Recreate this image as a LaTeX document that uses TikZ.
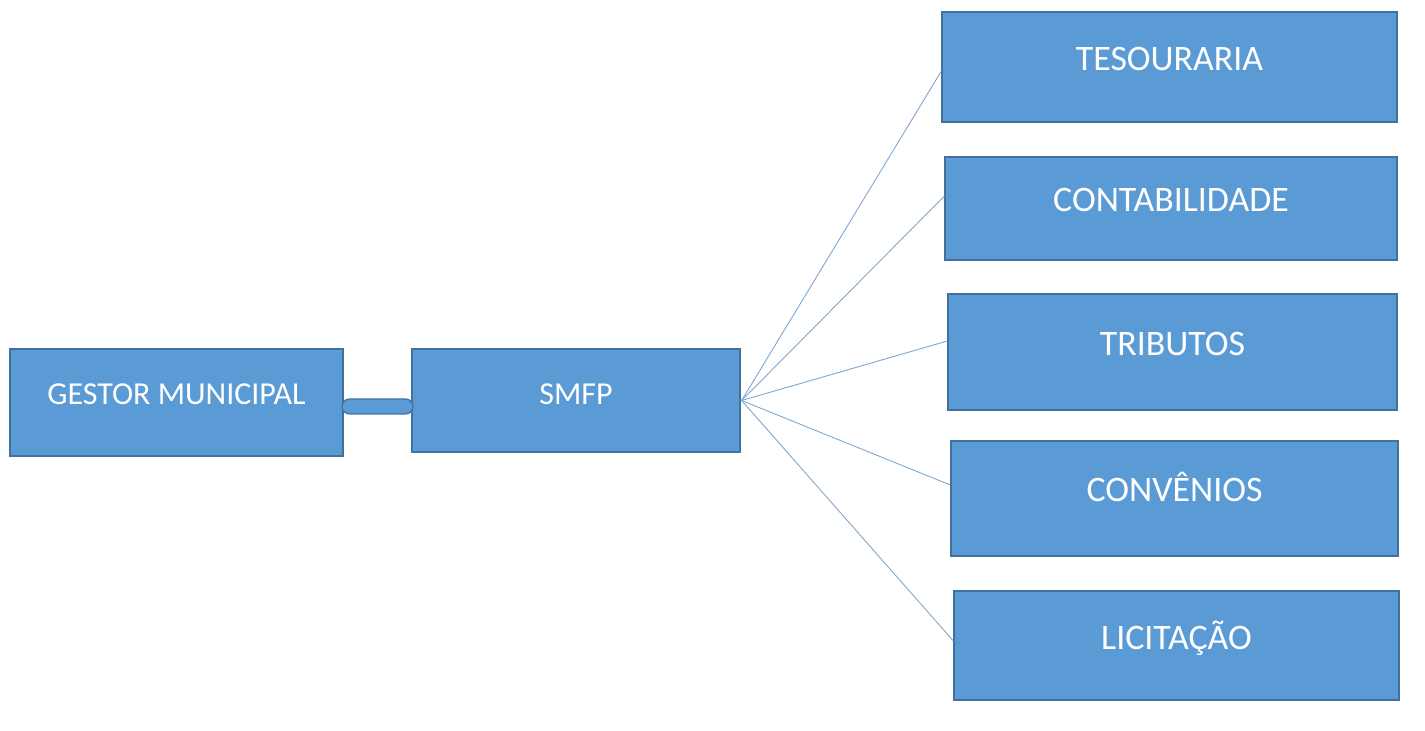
\documentclass[tikz,border=0pt]{standalone}
\usepackage{fontspec}
\setmainfont{Carlito}
\usepackage{tikz}
\usetikzlibrary{calc}

\definecolor{boxfill}{HTML}{5B9BD5}
\definecolor{boxline}{HTML}{41719C}
\definecolor{spokeline}{HTML}{7EA5D0}

\begin{document}
\begin{tikzpicture}[
    unit/.style={draw=boxline, line width=0.7pt, fill=boxfill, text=white,
        font=\fontsize{20.4}{24}\selectfont, text height=0.46cm, text depth=0.32cm,
        inner sep=0pt},
    smallunit/.style={unit, font=\fontsize{18.2}{22}\selectfont, text height=0.41cm},
    bar/.style={draw=boxline, line width=0.7pt, fill=boxfill, rounded corners=0.15cm,
        minimum width=1.42cm, minimum height=0.30cm, inner sep=0pt},
    spoke/.style={draw=spokeline, line width=0.5pt}
]
            \useasboundingbox (0,0) rectangle (28.5,-14.62);

            % Draw left units
            \node[smallunit, minimum width=6.66cm, minimum height=2.14cm] (gestor) at (3.53,-8.05) {GESTOR MUNICIPAL};
            \node[smallunit, minimum width=6.56cm, minimum height=2.06cm, text depth=0.26cm] (smfp) at (11.52,-8.01) {SMFP};

            % Draw link between them
            \node[bar] (link) at (7.55,-8.13) {};

            % Draw sectors
            \node[unit, minimum width=9.10cm, minimum height=2.20cm] (tes) at (23.39,-1.34) {TESOURARIA};
            \node[unit, minimum width=9.04cm, minimum height=2.06cm] (cont) at (23.42,-4.17) {CONTABILIDADE};
            \node[unit, minimum width=8.98cm, minimum height=2.32cm] (trib) at (23.45,-7.04) {TRIBUTOS};
            \node[unit, minimum width=8.94cm, minimum height=2.30cm] (conv) at (23.49,-9.97) {CONVÊNIOS};
            \node[unit, minimum width=8.90cm, minimum height=2.18cm] (lic) at (23.53,-12.91) {LICITAÇÃO};

            % Draw spokes
            \coordinate (hub) at ([xshift=0.02cm]smfp.east);
            \foreach \n/\dy in {tes/-0.08, cont/0.25, trib/0.22, conv/0.27, lic/0.09} {
                \draw[spoke] (hub) -- ([yshift=\dy cm]\n.west);
            }
        \end{tikzpicture}
\end{document}
